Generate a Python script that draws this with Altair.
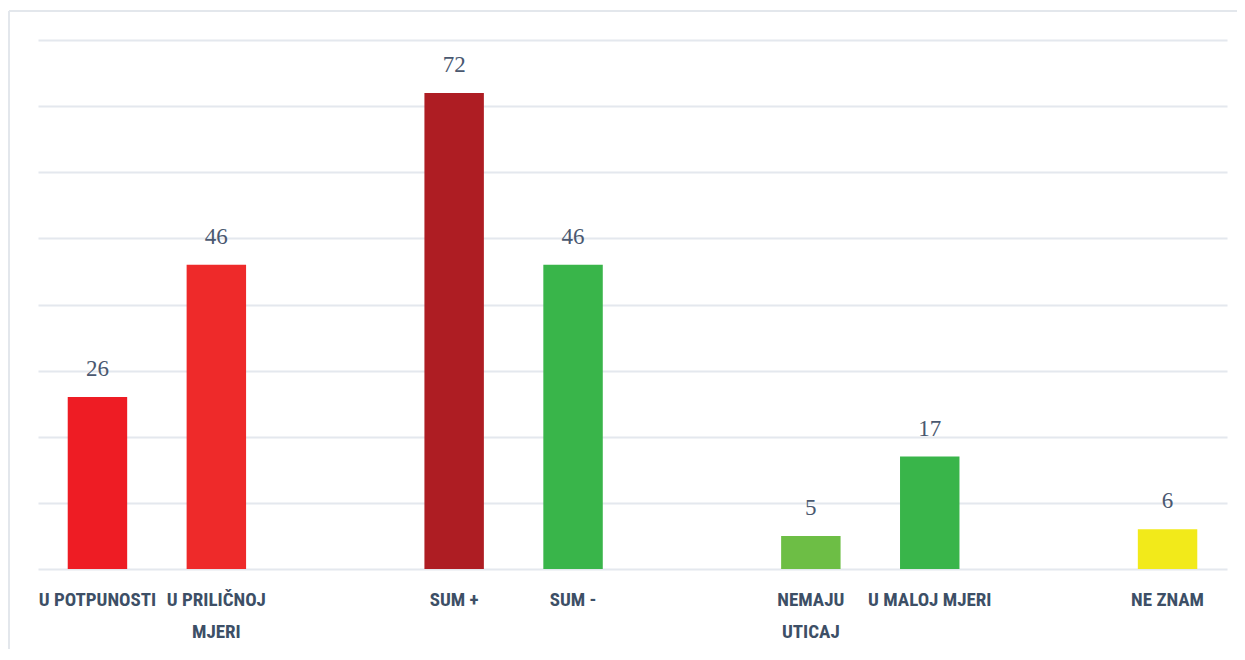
import altair as alt
import pandas as pd

categories = ["U POTPUNOSTI", "U PRILIČNOJ|MJERI", "_gap1", "SUM +", "SUM -", "_gap2",
              "NEMAJU|UTICAJ", "U MALOJ MJERI", "_gap3", "NE ZNAM"]
values = [26, 46, None, 72, 46, None, 5, 17, None, 6]
colors = ["#ee1c24", "#ee2a2a", "#ffffff", "#ae1d23", "#39b54a", "#ffffff",
          "#6dbe45", "#39b54a", "#ffffff", "#f2ea1a"]

df = pd.DataFrame({"cat": categories, "val": values, "color": colors})
bars_df = df.dropna()

x = alt.X("cat:N", sort=categories,
          scale=alt.Scale(domain=categories, paddingInner=0.5, paddingOuter=0.25),
          axis=alt.Axis(title=None, labelAngle=0, domain=False, ticks=False, grid=False,
                        labelExpr="indexof(datum.label,'_')==0 ? '' : split(datum.label,'|')",
                        labelFont="Roboto Condensed, Liberation Sans Narrow, Roboto, sans-serif",
                        labelFontWeight="bold", labelFontSize=19, labelColor="#3d4f66",
                        labelPadding=21, labelLineHeight=32, labelBaseline="top",
                        labelLimit=300))
y = alt.Y("val:Q", scale=alt.Scale(domain=[0, 80]),
          axis=alt.Axis(title=None, labels=False, ticks=False, domain=False,
                        values=list(range(0, 81, 10)), grid=True,
                        gridColor="#e4e8ee", gridWidth=2))

base = alt.Chart(bars_df)
bars = base.mark_bar().encode(x=x, y=y, color=alt.Color("color:N", scale=None))
text = base.mark_text(font="Liberation Serif, DejaVu Serif, serif", fontSize=23,
                      color="#4a5870", baseline="alphabetic", dy=-21).encode(
    x=alt.X("cat:N", sort=categories), y="val:Q", text=alt.Text("val:Q", format="d"))

frame_df = pd.DataFrame({"k": [0]})
left_border = alt.Chart(frame_df).mark_rule(color="#e3e7ec", strokeWidth=2).encode(
    x=alt.value(-29), y=alt.value(-29), y2=alt.value(620))
top_border = alt.Chart(frame_df).mark_rule(color="#e3e7ec", strokeWidth=2).encode(
    x=alt.value(-29), x2=alt.value(1199), y=alt.value(-29))

chart = alt.layer(left_border, top_border, bars, text).properties(
    width=1189, height=529,
    autosize=alt.AutoSizeParams(type="none"),
    padding={"left": 30, "top": 32, "right": 10, "bottom": 80},
    view=alt.ViewBackground(stroke="transparent", strokeWidth=0),
).configure_view(stroke="transparent", strokeWidth=0).configure(background="#ffffff")

chart.save("out.html", embed_options={"renderer": "svg", "actions": False})
